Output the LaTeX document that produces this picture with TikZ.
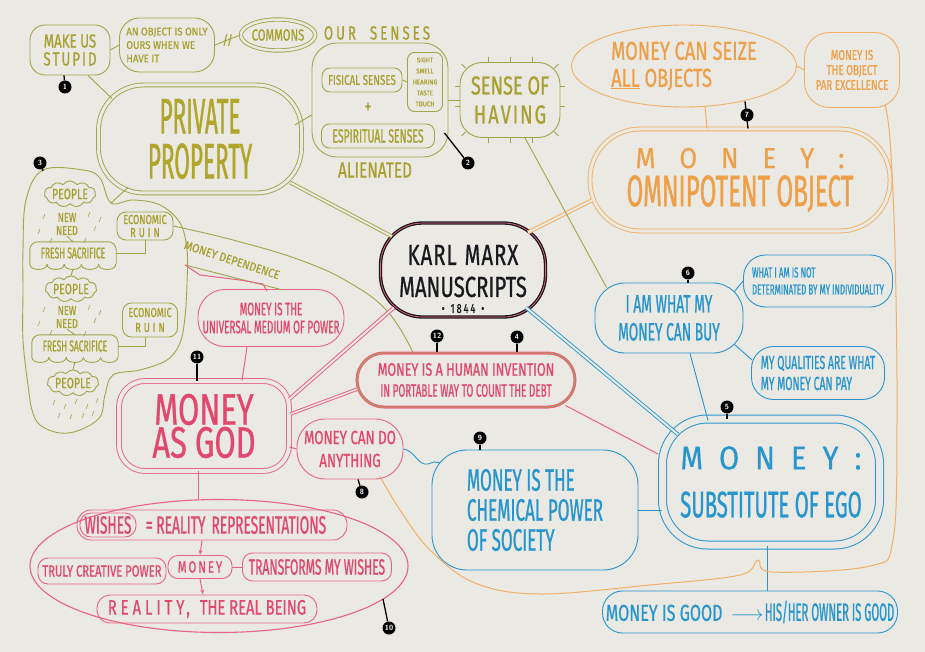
\documentclass[tikz,border=0pt]{standalone}
\usepackage{fontspec}
\usetikzlibrary{shapes.geometric,shapes.symbols,decorations.pathreplacing,arrows.meta,calc}
\newfontfamily\handx{Fira Sans}[FakeStretch=0.45,FakeBold=0.8]
\newfontfamily\handn{Fira Sans}[FakeStretch=0.55,FakeBold=0.8]
\newfontfamily\handm{Fira Sans}[FakeStretch=0.7,FakeBold=0.7]
\newfontfamily\handw{Fira Sans}[FakeStretch=0.88,FakeBold=0.5]
\newcommand\fsz[2]{\fontsize{#1}{#2}\selectfont}
\newcommand\hgap[1]{\hspace{#1pt}}
\definecolor{bgc}{RGB}{234,233,228}
\definecolor{olv}{RGB}{160,166,72}
\definecolor{olvt}{RGB}{168,160,48}
\definecolor{ppt}{RGB}{176,166,44}
\definecolor{org}{RGB}{243,176,100}
\definecolor{orgt}{RGB}{238,160,72}
\definecolor{pnk}{RGB}{232,100,130}
\definecolor{pnkt}{RGB}{224,72,108}
\definecolor{blu}{RGB}{40,150,205}
\definecolor{blk}{RGB}{25,25,30}
\tikzset{
 nd/.style={align=center,inner sep=1pt,line width=0.9pt},
 tx/.style={align=center,inner sep=1pt},
 ob/.style={nd,draw=olv,text=olvt},
 orb/.style={nd,draw=org,text=orgt},
 pb/.style={nd,draw=pnk,text=pnkt},
 bb/.style={nd,draw=blu,text=blu},
 dbl/.style={double=bgc,double distance=#1},
 dbl/.default=2.5pt,
 ol/.style={draw=olv,line width=0.9pt},
 orl/.style={draw=org,line width=1pt},
 pl/.style={draw=pnk,line width=1pt},
 bl/.style={draw=blu,line width=0.9pt},
 rain/.style={draw=olv,line width=0.6pt},
 badge/.style={circle,fill=black,text=white,inner sep=0pt,minimum size=13pt,font=\sffamily\bfseries\fsz{7.5}{7.5}},
 stub/.style={draw=black,line width=1.3pt},
}
\begin{document}
\begin{tikzpicture}[x=1pt,y=-1pt]
\fill[bgc] (0,0) rectangle (925,652);
\useasboundingbox (0,0) rectangle (925,652);

% ---------------- olive part
\node[ob,dbl=3pt,rounded corners=45pt,minimum width=203pt,minimum height=108pt,text=ppt,font=\handx\fsz{50}{45}] (pp) at (200,139) {PRIVATE\\PROPERTY};
\node[ob,rounded corners=15pt,minimum width=80pt,minimum height=50pt,font=\handm\fsz{19}{18}] (stupid) at (70,50) {MAKE US\\S\hgap{2}T\hgap{2}U\hgap{2}P\hgap{2}I\hgap{2}D};
\node[ob,rounded corners=20pt,minimum width=95pt,minimum height=54pt,align=left,font=\handw\fsz{11}{13.5}] (ours) at (167,45) {AN OBJECT IS ONLY\\OURS WHEN WE\\HAVE IT};
\node[ob,ellipse,dbl,inner sep=0pt,minimum width=66pt,minimum height=31pt,font=\handm\fsz{16}{16}] (commons) at (278,35) {COMMONS};
\node[tx,text=olvt,font=\handm\fsz{19}{19}] (oursenses) at (377,33) {O\hgap{3}U\hgap{3}R\hgap{14}S\hgap{3}E\hgap{3}N\hgap{3}S\hgap{3}E\hgap{3}S};
\node[ob,rounded corners=25pt,minimum width=136pt,minimum height=114pt] (senses) at (380,100) {};
\node[ob,rounded corners=8pt,minimum width=80pt,minimum height=24pt,font=\handm\fsz{14}{14}] (fisical) at (362,80) {FISICAL SENSES};
\node[ob,rounded corners=7pt,minimum width=35pt,minimum height=59pt,font=\handw\fsz{7}{11}] (list) at (425,82) {SIGHT\\SMELL\\HEARING\\TASTE\\TOUCH};
\node[tx,text=olvt,font=\handm\fsz{20}{20}] (plus) at (368,108) {+};
\node[ob,rounded corners=8pt,minimum width=113pt,minimum height=24pt,font=\handn\fsz{19}{19}] (espir) at (378,136) {ESPIRITUAL SENSES};
\node[tx,text=olvt,font=\handm\fsz{22}{22}] (alien) at (375,170) {ALIENATED};
\node[ob,rounded corners=22pt,minimum width=100pt,minimum height=75pt,font=\handm\fsz{26}{29}] (having) at (510,100) {SENSE OF\\H\hgap{2}A\hgap{2}V\hgap{2}I\hgap{2}N\hgap{2}G};
\foreach \dx in {-22,0,22}{
  \draw[ol] ($(having.north)+(\dx,0)$) -- ++(0,-5);
  \draw[ol] ($(having.south)+(\dx,0)$) -- ++(0,5);
}
\foreach \dy in {-14,6}{
  \draw[ol] ($(having.west)+(0,\dy)$) -- ++(-5,0);
  \draw[ol] ($(having.east)+(0,\dy)$) -- ++(5,0);
}
\draw[ol] ($(having.north west)+(6,6)$) -- ++(-4,-4);
\draw[ol] ($(having.north east)+(-6,6)$) -- ++(4,-4);
\draw[ol] ($(having.south west)+(6,-6)$) -- ++(-4,4);
\draw[ol] ($(having.south east)+(-6,-6)$) -- ++(4,4);

% people bubble
\draw[ol] plot[smooth cycle,tension=0.6] coordinates {(43,170) (83,170) (100,178) (111,203) (133,200) (160,205) (180,223) (187,250) (187,283) (185,317) (180,343) (167,360) (140,370) (113,375) (105,395) (100,417) (80,430) (60,433) (40,425) (32,410) (28,385) (23,340) (23,290) (23,250) (26,200)};
\coordinate (vtip) at (111,203);
\coordinate (blobtop) at (43,171);
\coordinate (md1) at (185,265);
\node[ob,cloud,cloud puffs=11,cloud puff arc=110,aspect=2.6,inner sep=0pt,font=\handm\fsz{15}{15}] (pe1) at (70,194) {PEOPLE};
\node[tx,text=olvt,font=\handm\fsz{13}{13}] (nn1) at (67,224) {NEW\\NEED};
\node[tx,text=olvt,minimum width=86pt,minimum height=22pt,inner sep=0pt,font=\handn\fsz{15.5}{15.5}] (fs1) at (73,253) {FRESH SACRIFICE};
\node[ob,cloud,cloud puffs=11,cloud puff arc=110,aspect=2.6,inner sep=0pt,font=\handm\fsz{15}{15}] (pe2) at (71,289) {PEOPLE};
\node[tx,text=olvt,font=\handm\fsz{13}{13}] (nn2) at (67,317) {NEW\\NEED};
\node[tx,text=olvt,minimum width=86pt,minimum height=22pt,inner sep=0pt,font=\handn\fsz{15.5}{15.5}] (fs2) at (75,346) {FRESH SACRIFICE};
\node[ob,cloud,cloud puffs=11,cloud puff arc=110,aspect=2.6,inner sep=0pt,font=\handm\fsz{15}{15}] (pe3) at (73,383) {PEOPLE};
\node[ob,rounded corners=9pt,minimum width=56pt,minimum height=28pt,font=\handm\fsz{13}{13}] (eco1) at (145,226) {ECONOMIC\\R\hgap{3}U\hgap{3}I\hgap{3}N};
\node[ob,rounded corners=9pt,minimum width=55pt,minimum height=34pt,font=\handm\fsz{13}{15}] (eco2) at (150,320) {ECONOMIC\\R\hgap{3}U\hgap{3}I\hgap{3}N};
\foreach \f in {fs1,fs2}{
  \draw[ol,rounded corners=8pt] (\f.south west) -- (\f.north west) -- (\f.north east) -- (\f.south east);
  \foreach \i in {0,...,4}{\draw[ol] ($(\f.south west)+(17.2*\i,0)$) .. controls +(0,7) and +(0,7) .. +(17.2,0);}
}
\foreach \p in {(45,214),(40,229),(52,238),(90,212),(96,226),(86,238),(101,217),(45,307),(40,321),(52,330),(90,305),(96,318),(86,331),(101,310),(55,400),(66,404),(77,399),(88,404),(98,398),(60,413),(72,414),(84,413),(94,411)}
  \draw[rain] \p -- ++(-2,5);
\draw[ol] (nn1.south) -- (fs1.north);
\draw[ol] (nn2.south) -- (fs2.north);
\draw[ol] (fs1.south) ++(0,5) -- (pe2.north);
\draw[ol] (fs2.south) ++(0,5) -- (pe3.north);
\draw[ol] (eco1.south) |- (fs1.east);
\draw[ol] ($(eco2.south)+(-5,0)$) |- (fs2.east);
\node[tx,text=olvt,rotate=-18,font=\handw\fsz{12}{12}] (mdep) at (232,260) {MONEY DEPENDENCE};

% ---------------- pink part
\node[pb,rounded corners=27pt,minimum width=146pt,minimum height=57pt,font=\handn\fsz{18}{18}] (univ) at (271,318) {MONEY IS THE\\UNIVERSAL MEDIUM OF POWER};
\node[pb,dbl=4pt,rounded corners=26pt,minimum width=170pt,minimum height=90pt,font=\handm\fsz{44}{33}] (god) at (204,426) {MONEY\\AS GOD};
\node[pb,double=olv,double distance=0.8pt,line width=1.1pt,rounded corners=27pt,minimum width=218pt,minimum height=54pt,font=\handm\fsz{18}{21}] (hi) at (466,380) {MONEY IS A HUMAN INVENTION\\{\handn IN PORTABLE WAY TO COUNT THE DEBT}};
\node[pb,rounded corners=28pt,minimum width=106pt,minimum height=60pt,font=\handm\fsz{19}{23}] (anything) at (350,449) {MONEY CAN DO\\ANYTHING};
\node[draw=pnk,line width=1.1pt,ellipse,minimum width=378pt,minimum height=133pt] (e10) at (219,566) {};
\node[pb,rounded corners=14pt,minimum width=270pt,minimum height=30pt] (rr) at (212,525) {};
\node[pb,rounded corners=11pt,minimum width=56pt,minimum height=24pt,font=\handn\fsz{25}{25}] (wish) at (108,525) {WISHES};
\node[tx,text=pnkt,font=\handn\fsz{25}{25}] (rrt) at (236,525) {= REALITY\hgap{6}REPRESENTATIONS};
\node[pb,rounded corners=10pt,minimum width=128pt,minimum height=26pt,font=\handm\fsz{16}{16}] (truly) at (102,571) {TRULY CREATIVE POWER};
\node[pb,rounded corners=10pt,minimum width=64pt,minimum height=23pt,font=\handm\fsz{16}{16}] (mon) at (200,567) {M\hgap{2}O\hgap{2}N\hgap{2}E\hgap{2}Y};
\node[pb,rounded corners=10pt,minimum width=149pt,minimum height=28pt,font=\handn\fsz{22}{22}] (transf) at (317,567) {TRANSFORMS MY WISHES};
\node[pb,rounded corners=13pt,minimum width=220pt,minimum height=28pt,font=\handm\fsz{21}{21}] (real) at (207,609) {R\hgap{4}E\hgap{4}A\hgap{4}L\hgap{4}I\hgap{4}T\hgap{4}Y\hgap{2},\hgap{10}THE REAL BEING};

% ---------------- black centre
\node[nd,draw=blk,double=pnk,double distance=0.7pt,line width=1.3pt,text=blk,rounded corners=42pt,minimum width=165pt,minimum height=94pt,font=\handm\fsz{29}{32}] (km) at (463,270) {\rule{0pt}{38pt}K\hgap{1}A\hgap{1}R\hgap{1}L\hgap{8}M\hgap{1}A\hgap{1}R\hgap{1}X\\MANUSCRIPTS\\[-16pt]{\fsz{13}{13}•\hgap{6}1\hgap{2}8\hgap{2}4\hgap{2}4\hgap{6}•}};

% ---------------- blue part
\node[bb,rounded corners=30pt,minimum width=148pt,minimum height=70pt,font=\handn\fsz{25}{28}] (iam) at (669,318) {I AM WHAT MY\\MONEY CAN BUY};
\node[bb,rounded corners=22pt,minimum width=149pt,minimum height=52pt,align=left,font=\handn\fsz{14.5}{17}] (whati) at (818,281) {WHAT I AM IS NOT\\DETERMINATED BY MY INDIVIDUALITY};
\node[bb,rounded corners=22pt,minimum width=133pt,minimum height=53pt,align=left,font=\handn\fsz{19}{21}] (qual) at (818,373) {MY QUALITIES ARE WHAT\\MY MONEY CAN PAY};
\node[bb,dbl=7pt,line width=1pt,rounded corners=45pt,minimum width=217pt,minimum height=126pt,font=\handn\fsz{37}{48}] (ego) at (771,482) {{\handw\fsz{33}{33}M\hgap{16}O\hgap{16}N\hgap{16}E\hgap{16}Y\hgap{16}:}\\SUBSTITUTE OF EGO};
\node[bb,rounded corners=35pt,minimum width=206pt,minimum height=120pt,align=left,font=\handn\fsz{31}{30}] (chem) at (535,510) {MONEY IS THE\\CHEMICAL POWER\\OF SOCIETY};
\node[bb,rounded corners=20pt,minimum width=295pt,minimum height=42pt] (good) at (750,612) {{\handm\fsz{23}{23}MONEY IS GOOD}\hgap{8}{\fsz{20}{20}$\longrightarrow$}\hgap{1}{\handx\fsz{25}{25}HIS/HER OWNER IS GOOD}};

% ---------------- orange part
\node[orb,ellipse,minimum width=225pt,minimum height=82pt,align=left,font=\handm\fsz{26}{27}] (seize) at (684,66) {MONEY CAN SEIZE\\\underline{ALL} OBJECTS};
\node[orb,rounded corners=25pt,minimum width=95pt,minimum height=75pt,font=\handm\fsz{14}{15}] (par) at (852,70) {MONEY IS\\THE OBJECT\\PAR EXCELLENCE};
\node[orb,dbl=3pt,rounded corners=50pt,minimum width=300pt,minimum height=102pt,font=\handn\fsz{44}{38}] (omni) at (740,180) {{\handw\fsz{29}{29}M\hgap{24}O\hgap{24}N\hgap{24}E\hgap{24}Y\hgap{24}:}\\OMNIPOTENT OBJECT};

% ---------------- connectors
\draw[ol] (stupid.east) -- (ours.west);
\draw[ol] (ours.east) -- node[text=olvt,font=\handw\fsz{13}{13},inner sep=0pt]{//} (commons.west);
\draw[ol] ($(stupid.south)+(18,0)$) -- ($(pp.north west)+(14,14)$);
\draw[ol] ($(pp.east)+(-7,-14)$) -- ($(senses.west)+(0,15)$);
\draw[ol] (fisical.east) -- (list.west);
\draw[ol] (senses.east) -- (having.west);
\draw[ol] ($(pp.south west)+(30,-6)$) -- (vtip);
\draw[ol] plot[smooth,tension=0.7] coordinates {(eco1.east) (233,240) (300,260) (350,283) (388,312) ($(hi.north)+(-53,0)$)};
\draw[ol] (md1) -- ($(univ.north)+(12,1)$);
\draw[pl] (md1) -- (200,275) -- (240,280) -- (263,284) -- ($(univ.north)+(-4,2)$);
\draw[ol,dbl=2pt] ($(pp.south east)+(-12,-11)$) -- ($(km.north west)+(12,14)$);
\draw[orl,dbl=2pt] ($(km.north east)+(-18,10)$) -- ($(omni.west)+(3,20)$);
\draw[ol] ($(having.south)+(15,0)$) -- ($(iam.north west)+(12,5)$);
\draw[bl,dbl=2pt] ($(km.south east)+(-20,-10)$) -- ($(ego.north west)+(16,16)$);
\draw[pl,dbl=2pt] ($(god.east)+(0,-27)$) -- ($(km.south west)+(14,-10)$);
\draw[pl,dbl=1.5pt] ($(god.east)+(1,-12)$) -- ($(hi.west)+(1,9)$);
\draw[pl] ($(hi.south east)+(-10,-2)$) -- ($(ego.west)+(-4,-28)$);
\draw[pl] ($(univ.south)+(-24,0)$) -- ($(god.north)+(38,0)$);
\draw[pl] ($(god.east)+(0,21)$) -- (anything.west);
\draw[pl] ([xshift=-6]god.south) -- ([xshift=-21]e10.north);
\draw[pl,-{Stealth[length=5pt]}] ($(rr.south)+(-10,0)$) -- (mon.north);
\draw[pl,-{Stealth[length=5pt]}] (mon.south) -- ($(real.north)+(-4,0)$);
\draw[pl] (mon.east) -- (transf.west);
\draw[bl] ($(iam.north east)+(-9,9)$) -- (whati.west);
\draw[bl] ($(iam.south east)+(-9,-9)$) -- ($(qual.west)+(1,-13)$);
\draw[bl] ([xshift=21]iam.south) -- ($(ego.north)+(-63,2)$);
\draw[bl] (chem.east) -- (chem.east -| ego.west);
\draw[bl] ([xshift=-4]ego.south) -- ([xshift=-4]ego.south |- good.north);
\draw[bl] (anything.east) .. controls (414,450) and (418,466) .. (428,464) .. controls (434,462) and (436,461) .. ($(chem.north west)+(8,13)$);
\draw[orl] (seize.east) -- (par.west);
\draw[orl] ($(seize.south)+(21,-1)$) -- ($(omni.north)+(-33,0)$);
\draw[orl] plot[smooth,tension=0.6] coordinates {($(anything.south)+(30,-3)$) (400,510) (430,550) (475,583) (540,594) (650,585) (740,575) (758,560) (772,572) (870,566) (893,540) (897,420) (895,250) (890,140) ($(par.south east)+(-15,-3)$)};

% ---------------- badges
\draw[stub] ($(seize.south)+(61,-6)$) -- ($(omni.north)+(8,0)$);
\node[badge] (b1) at (65,87) {1};
\node[badge] (b2) at (468,163) {2};
\node[badge] (b3) at (40,163) {3};
\node[badge] (b4) at (517,337) {4};
\node[badge] (b5) at (727,407) {5};
\node[badge] (b6) at (688,273) {6};
\node[badge] (b7) at (747,115) {7};
\node[badge] (b8) at (362,492) {8};
\node[badge] (b9) at (480,438) {9};
\node[badge] (b10) at (389,628) {10};
\node[badge] (b11) at (197,357) {11};
\node[badge] (b12) at (437,336) {12};
\draw[stub] (b1) -- ([xshift=-6]stupid.south);
\draw[stub] (b2) -- ($(senses.east)+(-4,33)$);
\draw[stub] (b3) -- (blobtop);
\draw[stub] (b4) -- ([xshift=51]hi.north);
\draw[stub] (b12) -- ([xshift=-29]hi.north);
\draw[stub] (b5) -- ([xshift=-44]ego.north);
\draw[stub] (b6) -- ([xshift=19]iam.north);
\draw[stub] (b8) -- ([xshift=8]anything.south);
\draw[stub] (b9) -- ([xshift=-55]chem.north);
\draw[stub] (b10) -- ($(e10.center)+(164,33)$);
\draw[stub] (b11) -- ([xshift=-7]god.north);
\end{tikzpicture}
\end{document}
